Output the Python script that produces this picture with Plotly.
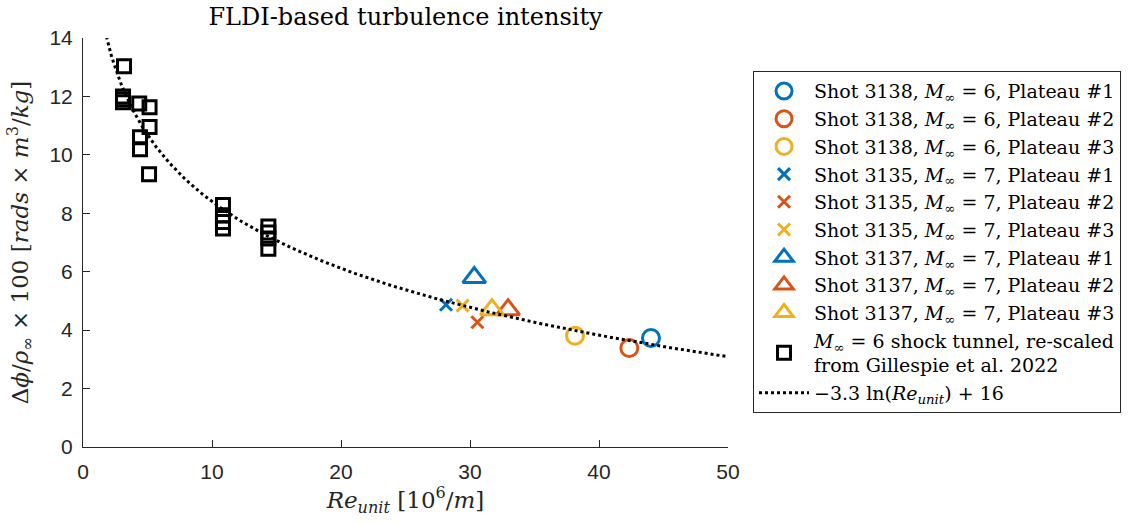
import numpy as np
import plotly.graph_objects as go

# ---- data -------------------------------------------------------------
# FLDI measurements (Re_unit in 1e6/m, intensity)
shot3138_re = [44.03, 42.35, 38.14]
shot3138_val = [3.73, 3.39, 3.81]
shot3135_re = [28.14, 30.57, 29.43]
shot3135_val = [4.87, 4.27, 4.84]
shot3137_re = [30.33, 32.95, 31.70]
shot3137_val = [5.80, 4.70, 4.70]
plateau_names = ["Plateau #1", "Plateau #2", "Plateau #3"]

# Gillespie et al. 2022, M=6 shock tunnel (re-scaled)
gillespie_re = [3.18, 3.10, 3.10, 3.10, 4.36, 5.16, 5.16, 4.42, 4.42, 5.12,
                10.85, 10.85, 10.85, 10.85, 14.37, 14.37, 14.37, 14.37]
gillespie_val = [13.03, 12.00, 11.90, 11.80, 11.76, 11.63, 10.95, 10.60, 10.19, 9.34,
                 8.28, 7.93, 7.70, 7.48, 7.55, 7.34, 7.14, 6.79]

# logarithmic fit  a*ln(Re) + b
fit_a = -3.3
fit_b = 16.0
fit_re = np.linspace(1.7, 50, 400)
fit_val = fit_a * np.log(fit_re) + fit_b

x_ticks = [0, 10, 20, 30, 40, 50]
y_ticks = [0, 2, 4, 6, 8, 10, 12, 14]

colors = ["#0072BD", "#D95319", "#EDB120"]
AXIS = "#262626"
SERIF = "DejaVu Serif"
SANS = "Liberation Sans"

fig = go.Figure()

def add_group(shot, mach, xs, ys, symbol, size, lw):
    for i in range(3):
        fig.add_trace(go.Scatter(
            x=[xs[i]], y=[ys[i]], mode="markers",
            name=f"Shot {shot}, <i>M</i><sub>∞</sub> = {mach}, {plateau_names[i]}",
            marker=dict(symbol=symbol, size=size, color=colors[i],
                        line=dict(width=lw, color=colors[i])),
        ))

add_group(3138, 6, shot3138_re, shot3138_val, "circle-open", 17, 3)
add_group(3135, 7, shot3135_re, shot3135_val, "x-thin-open", 12, 3)
add_group(3137, 7, shot3137_re, shot3137_val, "triangle-up-open", 20, 3)

fig.add_trace(go.Scatter(
    x=gillespie_re, y=gillespie_val, mode="markers",
    name="<i>M</i><sub>∞</sub> = 6 shock tunnel, re-scaled<br>from Gillespie et al. 2022",
    marker=dict(symbol="square-open", size=13, color="black",
                line=dict(width=3, color="black")),
))

fig.add_trace(go.Scatter(
    x=fit_re, y=fit_val, mode="lines",
    name="−3.3 ln(<i>Re</i><sub><i>unit</i></sub>) + 16",
    line=dict(color="black", width=3, dash="dot"),
))

fig.update_layout(
    width=1140, height=525,
    margin=dict(l=83, r=412, t=38, b=78),
    paper_bgcolor="white", plot_bgcolor="white",
    title=dict(text="FLDI-based turbulence intensity",
               font=dict(family=SERIF, size=24, color="black"),
               x=0.5, xref="paper", xanchor="center",
               y=1 - 17 / 525, yref="container", yanchor="middle"),
    legend=dict(x=1.0388, y=0.919, xanchor="left", yanchor="top",
                bgcolor="white", bordercolor=AXIS, borderwidth=1,
                font=dict(family=SERIF, size=19, color="black"),
                itemwidth=50, tracegroupgap=0),
    showlegend=True,
)

fig.update_xaxes(
    range=[0, 50], tickvals=x_ticks, ticktext=[str(v) for v in x_ticks],
    showline=True, linecolor=AXIS, linewidth=1, mirror=False,
    ticks="inside", ticklen=7, tickcolor=AXIS, tickwidth=1,
    showgrid=False, zeroline=False, ticklabelstandoff=6,
    tickfont=dict(family=SANS, size=21, color=AXIS),
    title=dict(text="<i>Re</i><sub><i>unit</i></sub> [10<sup>6</sup>/<i>m</i>]",
               font=dict(family=SERIF, size=23, color=AXIS), standoff=4),
)
fig.update_yaxes(
    range=[0, 14], tickvals=y_ticks, ticktext=[str(v) for v in y_ticks],
    showline=True, linecolor=AXIS, linewidth=1, mirror=False,
    ticks="inside", ticklen=7, tickcolor=AXIS, tickwidth=1,
    showgrid=False, zeroline=False, ticklabelstandoff=5,
    tickfont=dict(family=SANS, size=21, color=AXIS),
    title=dict(text="Δ<i>ϕ</i>/<i>ρ</i><sub>∞</sub> × 100 [<i>rads</i> × <i>m</i><sup>3</sup>/<i>kg</i>]",
               font=dict(family=SERIF, size=23, color=AXIS), standoff=14),
)

fig.write_html("out.html")
